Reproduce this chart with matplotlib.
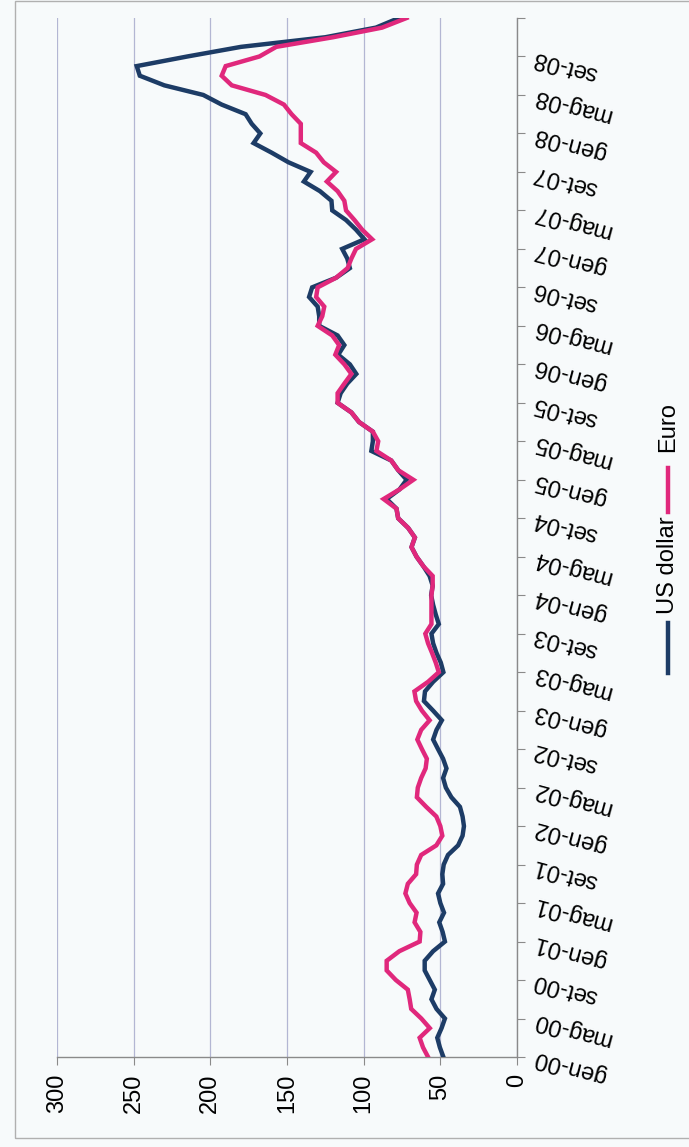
import numpy as np
import matplotlib
matplotlib.use("Agg")
import matplotlib.pyplot as plt
from matplotlib.lines import Line2D
from matplotlib.patches import Rectangle

plt.rcParams['font.family'] = ['Liberation Sans', 'DejaVu Sans']

# ---- data (monthly, gen-00 onwards) ----
usd = [48, 50.3, 52, 49.2, 47, 52.5, 55.8, 53.6, 56.9, 60.2,
       60.2, 54.7, 47, 48.5, 50.7, 47.6, 50, 51.5, 48.2, 48.7,
       47.8, 45, 38.4, 35.5, 34.6, 35.5, 37.2, 42.8, 46.4, 48.2,
       46, 48.2, 51.5, 54.7, 52.5, 49, 54.7, 60.7, 60, 54.7,
       48, 49.7, 52.5, 54.7, 55.8, 51, 53, 54.7, 56, 55,
       57, 61, 65.5, 68.8, 66.6, 71, 77.5, 78.6, 85, 76.6,
       72, 77.5, 82, 95, 94, 94, 103, 108, 117, 115,
       110.7, 104.8, 109, 116.6, 112.6, 117, 129, 129, 130, 135.6,
       133.6, 118, 109, 110.7, 114, 99.5, 105, 111.5, 120.5, 121,
       128.5, 139, 134.6, 149, 160, 171.8, 167.4, 173, 177, 192.6,
       204.6, 230, 246, 248, 215, 180, 125, 92, 77]
eur = [58, 61.3, 63.5, 56.9, 62.4, 69, 70, 71.2, 79, 85,
       85, 76.7, 63.5, 63, 66.8, 65.5, 70, 72.8, 71.2, 65.8,
       65.3, 62.5, 52.6, 48.7, 50, 52.6, 59.2, 65.3, 64.7, 62.5,
       59.6, 58.8, 62, 65, 62.5, 57, 62, 65.8, 66.9, 58,
       51, 53, 55.4, 58, 59.8, 55.8, 55.8, 55.8, 55.8, 55,
       55, 61, 65.5, 68.8, 66.6, 71, 77.5, 78.6, 87, 76.6,
       67.6, 77.5, 82, 91.7, 90.5, 94, 103, 108, 117, 117,
       112.6, 108, 112.6, 118.5, 116, 120.5, 130, 127, 125.7, 131,
       130, 118, 110.5, 108, 105, 94.5, 101, 106, 111.5, 112.6,
       117, 124, 118, 126, 131, 141, 141, 141, 147, 152,
       164, 186, 192.6, 190, 168, 157, 120, 88, 72]
date_labels = ['gen-00', 'mag-00', 'set-00', 'gen-01', 'mag-01', 'set-01',
               'gen-02', 'mag-02', 'set-02', 'gen-03', 'mag-03', 'set-03',
               'gen-04', 'mag-04', 'set-04', 'gen-05', 'mag-05', 'set-05',
               'gen-06', 'mag-06', 'set-06', 'gen-07', 'mag-07', 'set-07',
               'gen-08', 'mag-08', 'set-08', '']
value_ticks = [0, 50, 100, 150, 200, 250, 300]
series_names = ['US dollar', 'Euro']

BLUE = '#1d3c66'
PINK = '#e0287c'
BG = '#f7fafb'

W, H = 689, 1147
fig = plt.figure(figsize=(W / 100, H / 100), dpi=100, facecolor=BG)

# outer chart frame
fig.add_artist(Rectangle((15 / W, 1 - 1138 / H), 1.0, 1138 / H - 0.001,
                         transform=fig.transFigure, fill=False,
                         edgecolor='#b0b0b0', lw=1.0))

left, right, top, bottom = 57, 517, 18, 1057
ax = fig.add_axes([left / W, 1 - bottom / H, (right - left) / W, (bottom - top) / H])
ax.set_facecolor(BG)

t = np.arange(len(usd))
ax.plot(usd, t, color=BLUE, lw=3.2, solid_joinstyle='miter', zorder=3)
ax.plot(eur, t, color=PINK, lw=3.2, solid_joinstyle='miter', zorder=4)

ax.set_xlim(300, 0)
ax.set_ylim(0, 108)

ax.set_xticks(value_ticks)
ax.set_xticklabels([str(v) for v in value_ticks], rotation=90, fontsize=17)
ax.grid(axis='x', color='#b3b6d3', lw=0.9)
ax.set_axisbelow(True)

ax.yaxis.tick_right()
yt = list(range(0, 4 * len(date_labels), 4))
ax.set_yticks(yt)
ax.set_yticklabels(date_labels, fontsize=17)
for lab in ax.get_yticklabels():
    lab.set_rotation(165)
    lab.set_rotation_mode('anchor')
    lab.set_ha('right')
    lab.set_va('center')

ax.tick_params(axis='y', direction='out', length=6, color='#8a8a8a', pad=6)
ax.tick_params(axis='x', direction='out', length=6, color='#8a8a8a', pad=6)

for s in ['left', 'top']:
    ax.spines[s].set_visible(False)
for s in ['right', 'bottom']:
    ax.spines[s].set_color('#8a8a8a')
    ax.spines[s].set_linewidth(1.0)

# vertical legend at right
lx = 668 / W
fig.add_artist(Line2D([lx, lx], [1 - 673 / H, 1 - 623 / H], transform=fig.transFigure,
                      color=BLUE, lw=3.2))
fig.text(lx, 1 - 565 / H, series_names[0], rotation=90, ha='center', va='center', fontsize=17)
fig.add_artist(Line2D([lx, lx], [1 - 512 / H, 1 - 468 / H], transform=fig.transFigure,
                      color=PINK, lw=3.2))
fig.text(lx, 1 - 427 / H, series_names[1], rotation=90, ha='center', va='center', fontsize=17)

fig.savefig('out.png', dpi=100, facecolor=BG)
